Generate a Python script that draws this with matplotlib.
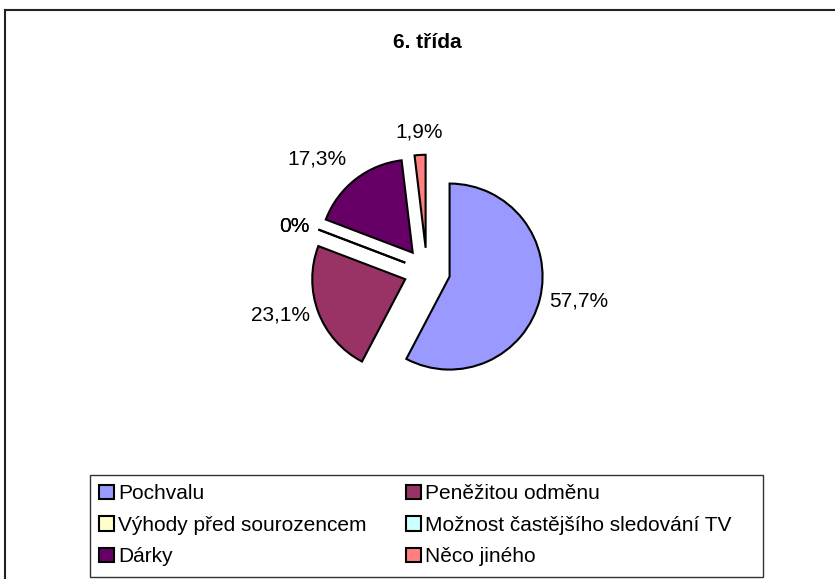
import matplotlib
matplotlib.use("Agg")
import matplotlib.pyplot as plt
import numpy as np
from matplotlib.patches import Patch, Rectangle
from matplotlib.lines import Line2D

plt.rcParams['font.family'] = ['Liberation Sans', 'DejaVu Sans']

# data
title = "6. třída"
categories = ["Pochvalu", "Peněžitou odměnu", "Výhody před sourozencem",
              "Možnost častějšího sledování TV", "Dárky", "Něco jiného"]
percent = [57.7, 23.1, 0.0, 0.0, 17.3, 1.9]
colors = ["#9999FF", "#993366", "#FFFFCC", "#CCFFFF", "#660066", "#FF8080"]

W, H = 835, 579
fig = plt.figure(figsize=(W / 100, H / 100), dpi=100)
ax = fig.add_axes([0, 0, 1, 1])

wedges, _ = ax.pie(percent, colors=colors, explode=[0.25] * len(percent),
                   startangle=90, counterclock=False, radius=1,
                   wedgeprops=dict(edgecolor="black", linewidth=1.5))

# pixel layout: pie centre and radius
scale, cx, cy = 93.0, 427.0, 271.0
ax.set_xlim(-cx / scale, (W - cx) / scale)
ax.set_ylim(-(H - cy) / scale, cy / scale)
ax.set_aspect("equal")
ax.axis("off")

def fmt(v):
    if v == 0:
        return "0%"
    return f"{v:.1f}%".replace(".", ",")

# data labels, Excel style: just outside each slice
for w, v in zip(wedges, percent):
    mid = np.deg2rad((w.theta1 + w.theta2) / 2)
    c, s = np.cos(mid), np.sin(mid)
    d = 1.1 if abs(s) < 0.5 else 1.15
    x = w.center[0] + d * w.r * c
    y = w.center[1] + d * w.r * s
    ha = "left" if c > 0.3 else ("right" if c < -0.3 else "center")
    va = "bottom" if s > 0.5 else ("top" if s < -0.5 else "center")
    ax.text(x, y, fmt(v), ha=ha, va=va, fontsize=15)

fig.text(cx / W, 1 - 42 / H, title, ha="center", va="center",
         fontsize=15, fontweight="bold")

# outer chart frame (runs past right/bottom edges)
fig.add_artist(Line2D([5 / W, 5 / W], [-0.1, 1 - 10 / H], transform=fig.transFigure,
                      color="#222222", lw=1.5))
fig.add_artist(Line2D([5 / W, 1.1], [1 - 10 / H, 1 - 10 / H], transform=fig.transFigure,
                      color="#222222", lw=1.5))

# legend box (Excel leaves slack on the right)
lx0, ly0, lx1, ly1 = 90, 475, 763, 577
fig.add_artist(Rectangle((lx0 / W, 1 - ly1 / H), (lx1 - lx0) / W, (ly1 - ly0) / H,
                         transform=fig.transFigure, fill=False,
                         edgecolor="#333333", linewidth=1.0))

# legend, row-major order in two columns
handles = [Patch(facecolor=col, edgecolor="black", linewidth=1.5) for col in colors]
order = [0, 2, 4, 1, 3, 5]
leg = fig.legend([handles[i] for i in order], [categories[i] for i in order],
                 ncol=2, loc="upper left", bbox_to_anchor=(lx0 / W, 1 - ly0 / H),
                 frameon=False, fontsize=15, handlelength=0.7, handleheight=0.7,
                 handletextpad=0.2, columnspacing=1.9, labelspacing=0.6,
                 borderpad=0.45, borderaxespad=0)

fig.savefig("out.png", dpi=100)
